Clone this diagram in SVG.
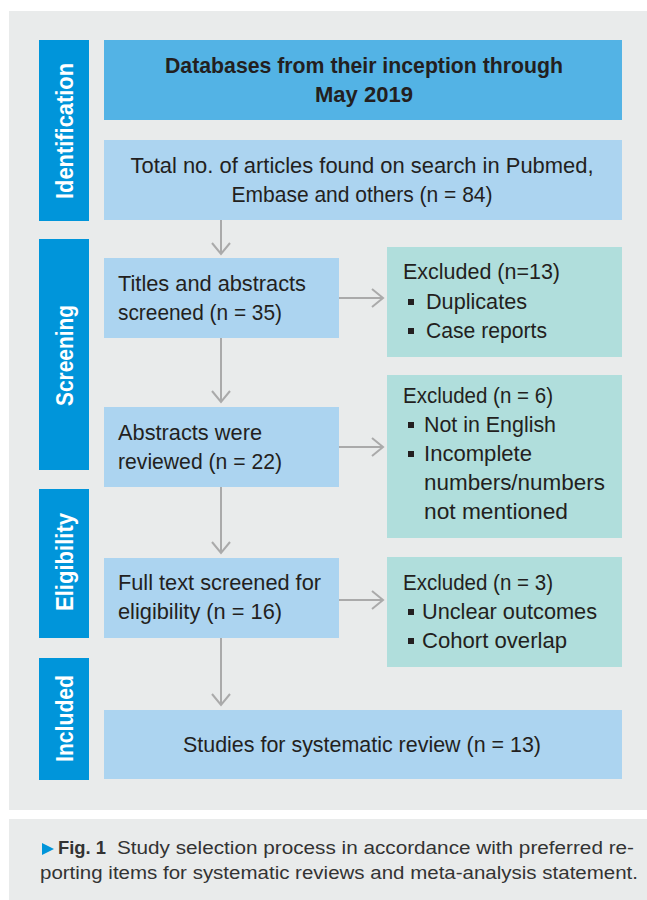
<svg xmlns="http://www.w3.org/2000/svg" width="647" height="900" viewBox="0 0 647 900">
<defs>
<style>
.panel{fill:#e9ebeb}
.bar{fill:#0095da}
.top{fill:#53b3e5}
.box{fill:#acd4f0}
.exc{fill:#b0dedc}
.t{font-family:"Liberation Sans",Arial,sans-serif;font-size:22px;fill:#231f20}
.tb{font-family:"Liberation Sans",Arial,sans-serif;font-size:22px;font-weight:bold;fill:#231f20}
.side{font-family:"Liberation Sans",Arial,sans-serif;font-size:24px;font-weight:bold;fill:#ffffff}
.cap{font-family:"Liberation Sans",Arial,sans-serif;font-size:17.5px;fill:#333333}
.capb{font-family:"Liberation Sans",Arial,sans-serif;font-size:17.5px;font-weight:bold;fill:#333333}
.bul{fill:#231f20}
.conn{stroke:#aaaaaa;stroke-width:2;fill:none;marker-end:url(#arr)}
</style>
<marker id="arr" markerUnits="userSpaceOnUse" viewBox="-13 -11 15 22" markerWidth="15" markerHeight="22" refX="0" refY="0" orient="auto">
<path d="M-11,-9 L0,0 L-11,9" fill="none" stroke="#aaaaaa" stroke-width="2"/>
</marker>
</defs>
<rect x="0" y="0" width="647" height="900" fill="#ffffff"/>
<rect class="panel" x="9" y="11" width="638" height="799"/>
<rect class="panel" x="9" y="819" width="638" height="81"/>

<g id="stage-identification">
<rect class="bar" x="39" y="40" width="50" height="181"/>
<text class="side" x="73" y="131" text-anchor="middle" textLength="136" lengthAdjust="spacingAndGlyphs" transform="rotate(-90 73 131)">Identification</text>
</g>
<g id="stage-screening">
<rect class="bar" x="39" y="239" width="50" height="231"/>
<text class="side" x="73" y="355.5" text-anchor="middle" textLength="101" lengthAdjust="spacingAndGlyphs" transform="rotate(-90 73 355.5)">Screening</text>
</g>
<g id="stage-eligibility">
<rect class="bar" x="39" y="489" width="50" height="149"/>
<text class="side" x="73" y="562" text-anchor="middle" textLength="98" lengthAdjust="spacingAndGlyphs" transform="rotate(-90 73 562)">Eligibility</text>
</g>
<g id="stage-included">
<rect class="bar" x="39" y="658" width="50" height="122"/>
<text class="side" x="73" y="718.5" text-anchor="middle" textLength="87" lengthAdjust="spacingAndGlyphs" transform="rotate(-90 73 718.5)">Included</text>
</g>

<g id="connectors">
<path class="conn" d="M221,220 L221,254"/>
<path class="conn" d="M221,338 L221,402"/>
<path class="conn" d="M221,487 L221,553"/>
<path class="conn" d="M221,638 L221,705"/>
<path class="conn" d="M339,298 L383,298"/>
<path class="conn" d="M339,447 L383,447"/>
<path class="conn" d="M339,600 L383,600"/>
</g>

<g id="databases">
<rect class="top" x="104" y="40" width="518" height="80"/>
<text class="tb" x="364" y="73" text-anchor="middle" textLength="398" lengthAdjust="spacingAndGlyphs">Databases from their inception through</text>
<text class="tb" x="364" y="102" text-anchor="middle" textLength="98" lengthAdjust="spacingAndGlyphs">May 2019</text>
</g>
<g id="total-articles">
<rect class="box" x="104" y="140" width="518" height="80"/>
<text class="t" x="362" y="173" text-anchor="middle" textLength="463" lengthAdjust="spacingAndGlyphs">Total no. of articles found on search in Pubmed,</text>
<text class="t" x="362" y="202" text-anchor="middle" textLength="261" lengthAdjust="spacingAndGlyphs">Embase and others (n = 84)</text>
</g>
<g id="titles-screened">
<rect class="box" x="104" y="258" width="235" height="80"/>
<text class="t" x="118" y="291" textLength="188" lengthAdjust="spacingAndGlyphs">Titles and abstracts</text>
<text class="t" x="118" y="320" textLength="164" lengthAdjust="spacingAndGlyphs">screened (n = 35)</text>
</g>
<g id="excluded-13">
<rect class="exc" x="387" y="247" width="235" height="110"/>
<text class="t" x="403" y="279" textLength="157" lengthAdjust="spacingAndGlyphs">Excluded (n=13)</text>
<rect class="bul" x="408" y="299" width="6" height="6"/>
<text class="t" x="426" y="309" textLength="101" lengthAdjust="spacingAndGlyphs">Duplicates</text>
<rect class="bul" x="408" y="328" width="6" height="6"/>
<text class="t" x="426" y="338" textLength="121" lengthAdjust="spacingAndGlyphs">Case reports</text>
</g>
<g id="abstracts-reviewed">
<rect class="box" x="104" y="407" width="235" height="80"/>
<text class="t" x="118" y="440" textLength="144" lengthAdjust="spacingAndGlyphs">Abstracts were</text>
<text class="t" x="118" y="469" textLength="164" lengthAdjust="spacingAndGlyphs">reviewed (n = 22)</text>
</g>
<g id="excluded-6">
<rect class="exc" x="387" y="375" width="235" height="163"/>
<text class="t" x="403" y="403" textLength="150" lengthAdjust="spacingAndGlyphs">Excluded (n = 6)</text>
<rect class="bul" x="408" y="422" width="6" height="6"/>
<text class="t" x="424" y="432" textLength="132" lengthAdjust="spacingAndGlyphs">Not in English</text>
<rect class="bul" x="408" y="451" width="6" height="6"/>
<text class="t" x="424" y="461" textLength="108" lengthAdjust="spacingAndGlyphs">Incomplete</text>
<text class="t" x="424" y="490" textLength="181" lengthAdjust="spacingAndGlyphs">numbers/numbers</text>
<text class="t" x="424" y="519" textLength="144" lengthAdjust="spacingAndGlyphs">not mentioned</text>
</g>
<g id="full-text">
<rect class="box" x="104" y="558" width="235" height="80"/>
<text class="t" x="118" y="590" textLength="203" lengthAdjust="spacingAndGlyphs">Full text screened for</text>
<text class="t" x="118" y="619" textLength="164" lengthAdjust="spacingAndGlyphs">eligibility (n = 16)</text>
</g>
<g id="excluded-3">
<rect class="exc" x="387" y="557" width="235" height="110"/>
<text class="t" x="403" y="590" textLength="150" lengthAdjust="spacingAndGlyphs">Excluded (n = 3)</text>
<rect class="bul" x="408" y="609" width="6" height="6"/>
<text class="t" x="422" y="619" textLength="175" lengthAdjust="spacingAndGlyphs">Unclear outcomes</text>
<rect class="bul" x="408" y="638" width="6" height="6"/>
<text class="t" x="422" y="648" textLength="145" lengthAdjust="spacingAndGlyphs">Cohort overlap</text>
</g>
<g id="studies-included">
<rect class="box" x="104" y="710" width="518" height="69"/>
<text class="t" x="362" y="752" text-anchor="middle" textLength="358" lengthAdjust="spacingAndGlyphs">Studies for systematic review (n = 13)</text>
</g>

<g id="caption">
<polygon points="42,843 54,849 42,855" fill="#0095da"/>
<text class="capb" x="58" y="854" textLength="48" lengthAdjust="spacingAndGlyphs">Fig. 1</text>
<text class="cap" x="117" y="854" textLength="517" lengthAdjust="spacingAndGlyphs">Study selection process in accordance with preferred re-</text>
<text class="cap" x="40" y="879" textLength="598" lengthAdjust="spacingAndGlyphs">porting items for systematic reviews and meta-analysis statement.</text>
</g>
</svg>
